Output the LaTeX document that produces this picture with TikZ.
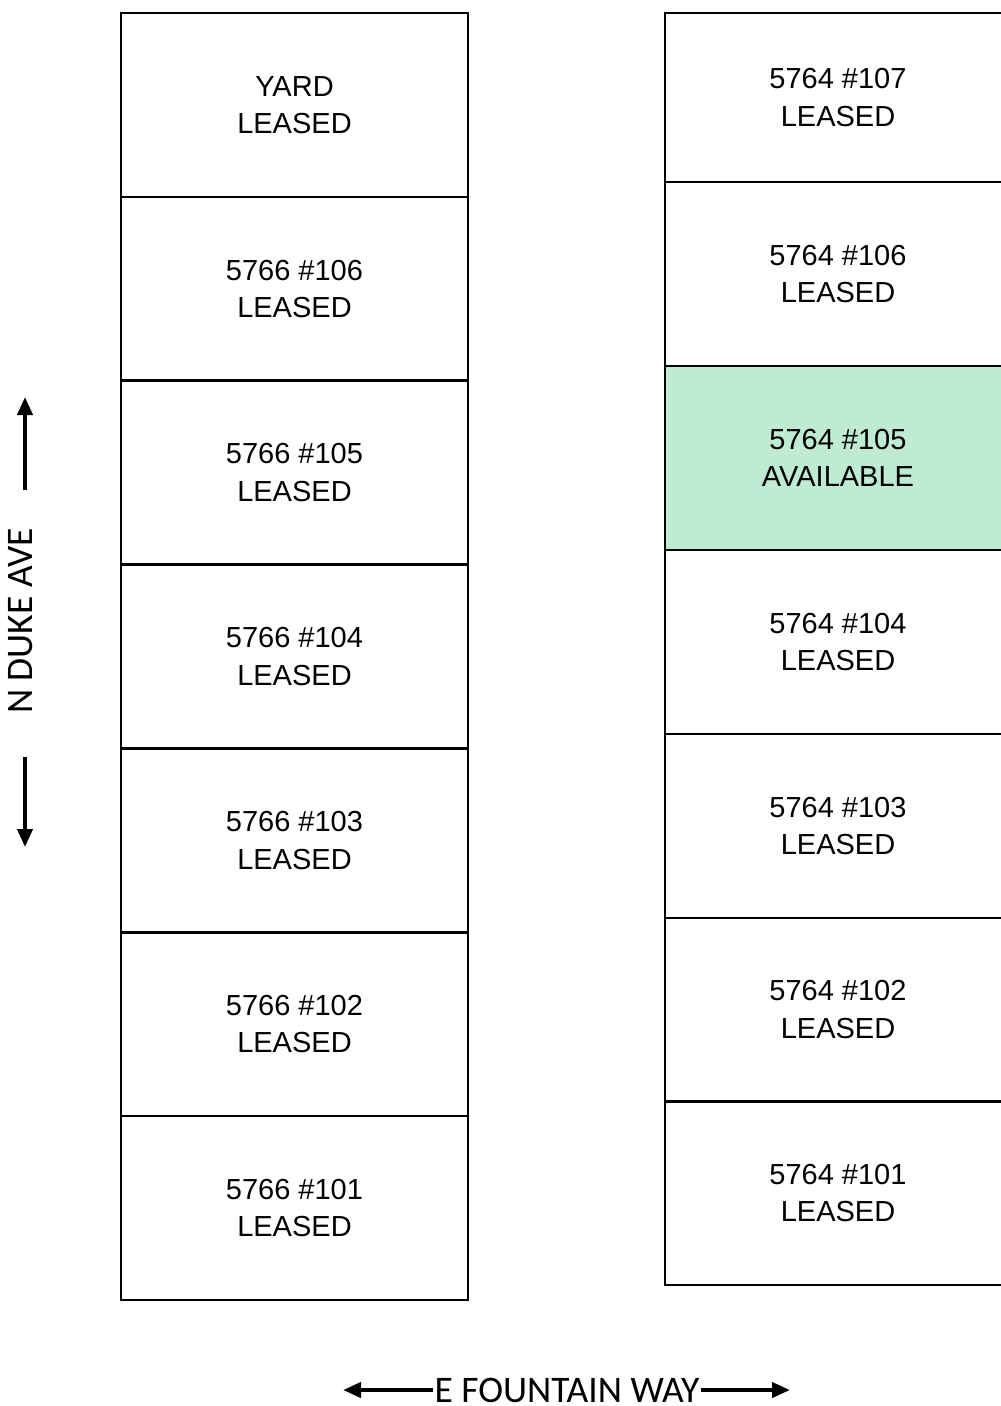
\documentclass[tikz,border=0pt]{standalone}
\usepackage{fontspec}
\setmainfont{Liberation Sans}
\newfontfamily\streetFont{Carlito}
\usetikzlibrary{calc,arrows.meta}
\definecolor{availGreen}{RGB}{191,235,211}
\newcommand\unitFont{\fontsize{29}{37.5}\selectfont}
\newcommand\leftBuilding{5766}
\newcommand\rightBuilding{5764}

\begin{document}
\begin{tikzpicture}[x=1pt,y=-1pt,line width=2.5pt,
    unit/.style={align=center,inner sep=0pt,font=\unitFont},
    street/.style={inner sep=0pt,font=\streetFont\fontsize{37.5}{40}\selectfont},
    street arrow/.style={line width=4pt,-{Triangle[length=18pt,width=15pt]}}]
  \useasboundingbox (0,0) rectangle (1001,1406);

  %% Left building: yard and units 106 down to 101
  \foreach \x in {0,1,...,6}
  {
    \coordinate (LT\x) at (121,{13+183.85*\x});
    \coordinate (LB\x) at (468,{13+183.85*(\x+1)});
    \draw (LT\x) rectangle (LB\x);
    \edef\unitNumber{\number\numexpr107-\x\relax}
    \node[unit] (L\x) at ($(LT\x)!0.5!(LB\x)$)
      {\ifnum\x=0 YARD\else\leftBuilding{} \#\unitNumber\fi\\LEASED};
  }

  %% Right building: units 107 down to 101, open on the right
  \foreach \x/\top/\bot in {0/13/182, 1/182/366, 2/366/550, 3/550/734,
                            4/734/918, 5/918/1101.5, 6/1101.5/1285}
  {
    \ifnum\x=2 \def\boxFill{availGreen}\def\boxState{AVAILABLE}%
    \else \def\boxFill{white}\def\boxState{LEASED}\fi
    \coordinate (RT\x) at (665,\top);
    \coordinate (RB\x) at (1006,\bot);
    \draw[fill=\boxFill] (RT\x) rectangle (RB\x);
    \edef\unitNumber{\number\numexpr107-\x\relax}
    \node[unit] (R\x) at (838,{(\top+\bot)/2})
      {\rightBuilding{} \#\unitNumber\\\boxState};
  }

  %% Streets
  \node[street,rotate=90] (DUKE) at (21,621) {N DUKE AVE};
  \coordinate (DUKEn) at (25,397);
  \coordinate (DUKEs) at (25,847);
  \draw[street arrow,shorten <=37pt] (DUKEn |- DUKE.east) -- (DUKEn);
  \draw[street arrow,shorten <=42pt] (DUKEs |- DUKE.west) -- (DUKEs);

  \node[street] (FOUNTAIN) at (567,1390) {E FOUNTAIN WAY};
  \coordinate (FOUNTAINw) at (343,1390);
  \coordinate (FOUNTAINe) at (790,1390);
  \draw[street arrow] (FOUNTAIN) -- (FOUNTAINw);
  \draw[street arrow] (FOUNTAIN) -- (FOUNTAINe);

\end{tikzpicture}
\end{document}
